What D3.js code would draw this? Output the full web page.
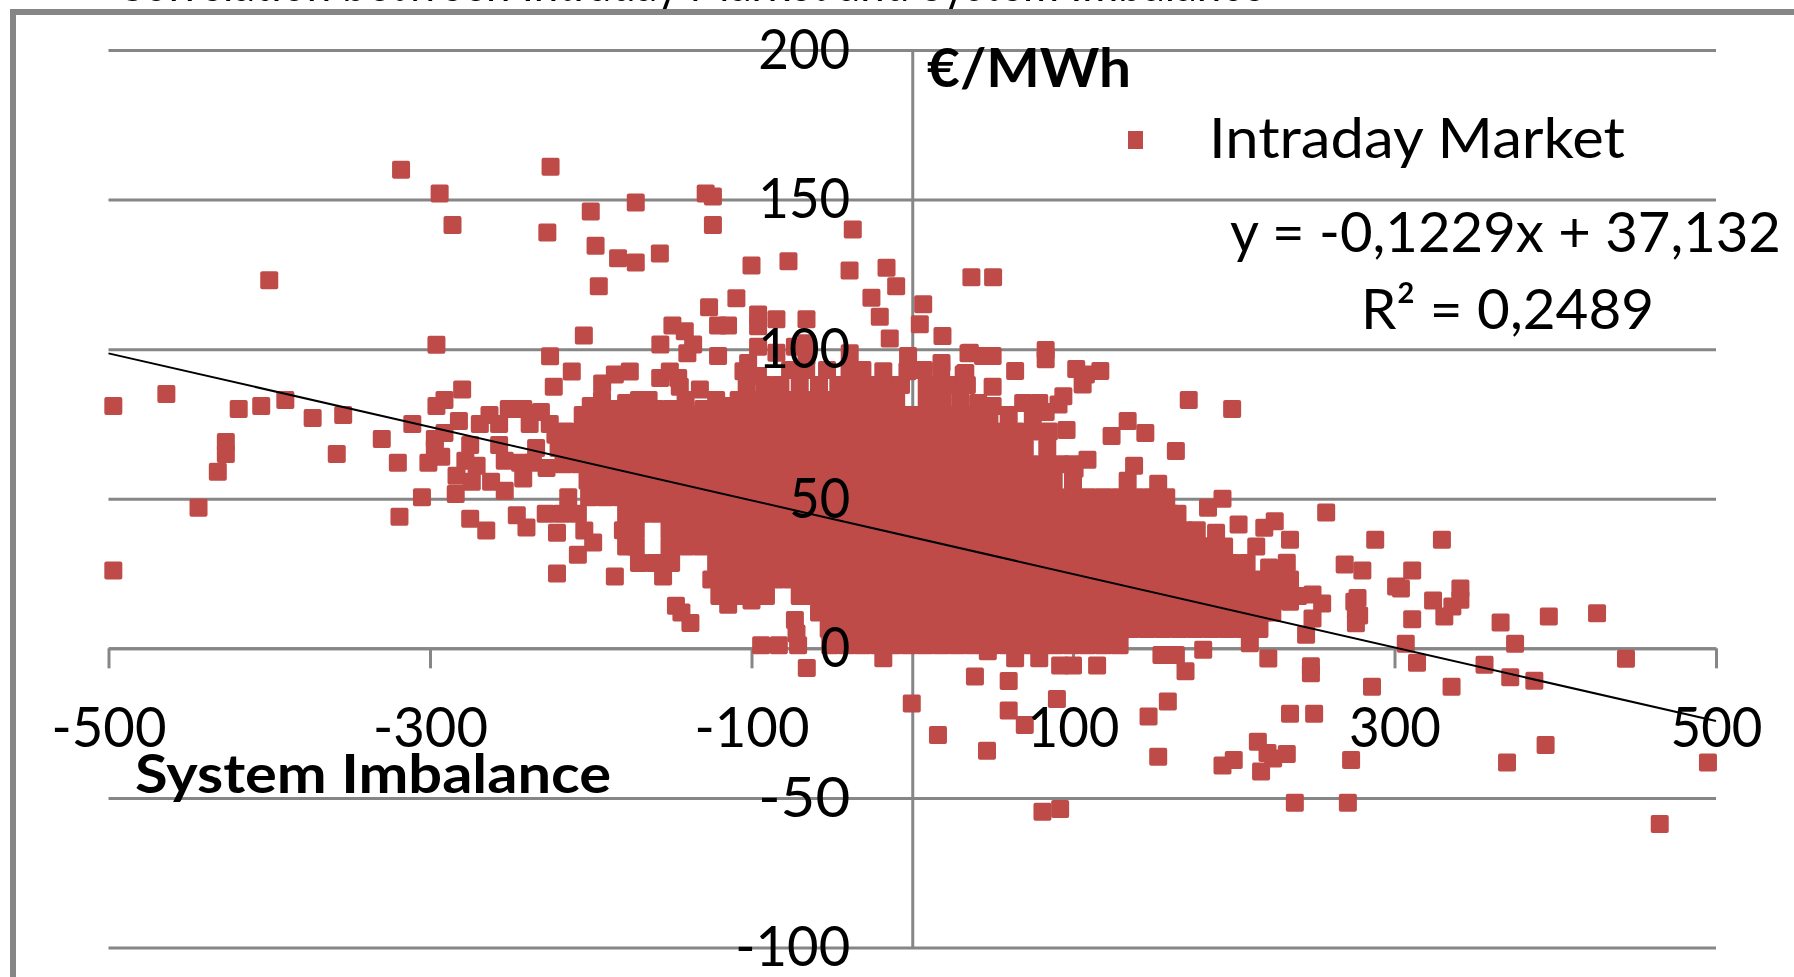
<!DOCTYPE html>
<html>
<head>
<meta charset="utf-8">
<script src="https://cdnjs.cloudflare.com/ajax/libs/d3/7.8.5/d3.min.js"></script>
<style>
  html, body { margin: 0; background: #fff; overflow: hidden; }
  text { font-family: Lato, Carlito, sans-serif; fill: #000; }
</style>
</head>
<body>
<script>
var xTicks = [-500, -300, -100, 100, 300, 500];
var yTicks = [200, 150, 100, 50, 0, -50, -100];
var trendX = [-500, 500];
var trendY = [98.6, -24.3];

// points, [imbalance, price]
var farLeft = [[-497,81],[-497,26],[-464,85],[-419,80],[-405,81],[-390,83],[-373,77],[-354,78],
  [-427,69],[-427,65],[-432,59],[-444,47],[-400,123],[-358,65],[-330,70],[-320,62],[-319,44],
  [-311,75],[-305,50.5],[-301,62]];
var upper = [[-318,160],[-294,152],[-286,141.5],[-296,101.5],[-225,161],[-227,139],[-200,146],
  [-172,149],[-197,134.6],[-183,130.4],[-172,129],[-157,132],[-195,121],[-128.5,152],[-124,151],
  [-124,141.5],[-100,128],[-77,129.4],[-37,140],[-39,126.3],[-16,127.2],[-10,121],[-25.4,117.2],
  [-20.2,110.8],[6.8,115],[4.7,108.3],[-14,103.6],[18.8,104.4],[36.8,124],[50.3,124],[-109.4,117],
  [-126.4,114],[-120.8,107.9],[-114.6,107.9],[-95.9,111.6],[-95.9,107.7],[-84.5,110],[-65.8,110],
  [-149.2,107.9],[-141.5,106],[-136.3,101.6],[-139.9,98.6],[-156.7,101.6],[-120.8,97.7],[-95.9,100.8],
  [-84.5,98.8],[-73,100.8],[-65.8,102],[-65.8,97.7],[-38.9,98.6],[35.8,98.8],[48.3,97.7],[-2.6,97.7],
  [18.2,95.4],[-102.1,95.4],[-204.3,104.6],[-225.3,97.6],[-211.8,92.5],[-223,87.4],[-156.8,90.4],
  [-150.8,92.5],[-145.6,90.4],[-144.6,87.4],[-132.1,86.5],[-175.7,92.5],[-185,91.5],[-192.9,88.5]];
var topEdge = [[-193,83],[-170,83],[-164,83],[-141,83],[-122,83],[-108,83],[-100,83],[-90,83],[-80,83],
  [-70,83],[-60,83],[-50,83],[-40,83],[-30,83],[-20,83],[-10,83],[9,83],[19,83],[30,83],[41,82],[50,81],
  [-103,88],[-92,88],[-82,88],[-70,88],[-58,88],[-46,88],[-35,88],[-25,88],[-15,88],[-7,88],[9,88],
  [18,88],[26,88],[34,88],[50,87.4],[-105,92.6],[-96,91],[-76,93],[-66,93],[-53,93],[-39,93],[-31,93],
  [-18,92.6],[-3,92.6],[7,93],[18,93],[33,92],[35,98.6],[44,97.7],[50,97.7],[83,99.7],[83,96.6],[64,92.7],
  [102,93.4],[117,92.7],[108,91.5],[106,88.2],[32,91.5],[33,88.2],[94,84.3],[69,82],[79,82],[91,81.5],
  [75,78],[83,79],[-200,81],[-185,80],[-178,82],[-160,80],[-150,80],[-130,80],[-115,81]];
var leftCluster = [[-280,86.5],[-291,83],[-296,81],[-282,76],[-269,75],[-263,78],[-251,80],[-242,80],
  [-231,79],[-257,75],[-238,75],[-225.5,75],[-222,71.4],[-297,70],[-291,72],[-297,67],[-293,64],
  [-275,68],[-278,62.7],[-271,61],[-283.5,57.7],[-274,55.7],[-284,51.6],[-262,55.7],[-253.5,52.7],
  [-257,68],[-253.5,62.7],[-244,62],[-242,56.8],[-234,67],[-227.5,60.3],[-236,62],[-275,43.3],
  [-265,39.4],[-246,44.5],[-240,40.4],[-221,38.6],[-204,39.4],[-198.5,35.4],[-208,31.3],[-221,25],
  [-185,24],[-155,24],[-147,14.2],[-143.6,12],[-138,8.5],[-114.5,14.6],[-100,16],[-94,1],[-83,1],[-71,1],[-73,9.5],[-72,5]];
var rightSide = [[172,83],[199,80],[134,76],[124,71],[145,72],[164,66],[138,61],[109,63],[101,60],[134,56],
  [153,55],[96,73],[193,50],[184,47],[203,41.4],[225.5,42.5],[219,40.3],[189,38.6],[235,36.3],[214,34],
  [194,34],[233,28.6],[222,27],[257.5,45.4],[288,36.3],[329.5,36.3],[269,28],[280,26],[311,26],[301,20.7],
  [304,20],[341,20],[324,16],[336,14],[341,16.2],[331,10.6],[275,15.6],[277,16.8],[276,13],[278,11],[276,8.4],
  [311,9.7],[366,8.6],[396,10.6],[426,11.7],[307,1.5],[375,1.5],[314,-4.8],[444,-3.5],[356,-5.5],[372,-9.7],
  [387,-10.8],[286,-12.8],[335.5,-12.8],[248,-6],[248,-8.3],[245,4.5],[249,18],[255,15],[235,15.6],[249,10]];
var below = [[-18,-3.3],[-65.6,-6.6],[39,-9.4],[-0.3,-18.4],[47,-1],[64,-3.3],[79,-3.3],[92,-5.7],[100,-5.7],
  [115,-5.7],[155,-2.2],[164,-2.2],[170,-7.7],[181,-0.5],[210,1.7],[221.5,-3.4],[60,-10.9],[90,-16.9],
  [159,-17.8],[147,-22.8],[60,-20.8],[70,-25.6],[16,-29],[46.5,-34.2],[153,-36.2],[235,-21.9],[250,-21.9],
  [215,-31.2],[221,-35],[224.5,-36.8],[233,-35.3],[200,-37.3],[193,-39.2],[217,-41.2],[273,-37.3],
  [370,-38.2],[394,-32.3],[495,-38.2],[238,-51.6],[271,-51.6],[81,-54.6],[92,-53.7],[465,-58.7]];

// the middle of the cloud is solid in the picture, single points can't be told apart there,
// so these bands are estimates that follow its outline and holes
var bandY = [1, 6.5, 12, 17.5, 23, 28.5, 34, 39.5, 45, 50.5, 56, 61.5, 67, 72.5, 78];
var bandX = [
  [-51,-41,-31,-21,-12,-2,8,18,28,38,49,59,69,79,89,99,109,119,129],
  [-52,-42,-32,-22,-12,-3,7,17,27,37,47,57,67,77,87,97,107,117,127,136,146,156,166,176,186,196,206,216],
  [-58,-50,-40,-30,-21,-11,-1,9,19,29,39,48,58,68,78,88,98,108,118,128,138,148,158,168,178,188,198,208,218,224],
  [-120,-110,-100,-91,-70,-62,-56,-46,-36,-26,-16,-6,4,14,24,34,44,54,64,74,84,94,104,114,124,134,144,154,164,174,184,194,204,214,224,234,240],
  [-125,-115,-105,-95,-85,-75,-65,-55,-45,-35,-25,-15,-5,5,15,25,35,45,55,65,75,85,95,105,115,125,135,145,155,165,175,185,195,205,215,225,235],
  [-170,-160,-150,-122,-112,-102,-92,-82,-72,-62,-52,-42,-32,-22,-12,-2,8,18,28,38,48,58,68,78,88,98,108,118,128,138,148,158,168,178,188,198,208],
  [-178,-172,-151,-141,-131,-121,-111,-101,-91,-81,-71,-61,-51,-41,-31,-21,-11,-1,9,19,29,39,49,59,69,79,89,99,109,119,129,139,149,159,169,179,185],
  [-180,-172,-151,-141,-131,-121,-111,-101,-91,-81,-71,-61,-51,-41,-31,-21,-11,-1,9,19,29,39,49,59,69,79,89,99,109,119,129,139,149,159,169,177],
  [-228,-218,-208,-178,-168,-158,-148,-138,-128,-118,-108,-98,-88,-78,-68,-58,-48,-38,-28,-18,-8,2,12,22,32,42,52,62,72,82,92,102,112,122,132,142,152,160,165],
  [-214,-201,-191,-181,-171,-161,-151,-141,-131,-121,-111,-101,-91,-81,-71,-61,-51,-41,-31,-21,-11,-1,9,19,29,39,49,59,69,79,89,99,109,119,129,139,149,158],
  [-202,-192,-182,-172,-162,-152,-142,-132,-122,-112,-102,-92,-82,-72,-62,-52,-42,-32,-22,-12,-2,8,18,28,38,48,58,68,78,88,100],
  [-217,-207,-197,-187,-177,-167,-157,-147,-137,-127,-117,-107,-97,-87,-77,-67,-57,-47,-37,-27,-17,-7,3,13,23,33,43,53,63,73,83,92,100],
  [-220,-210,-200,-190,-180,-170,-160,-150,-140,-130,-120,-110,-100,-90,-80,-70,-60,-50,-40,-30,-20,-10,0,10,20,30,40,50,60,70,84],
  [-216,-206,-196,-186,-176,-166,-156,-146,-136,-126,-116,-106,-96,-86,-76,-66,-56,-46,-36,-26,-16,-6,4,14,24,34,44,54,64,74,85],
  [-205,-196,-186,-176,-166,-156,-146,-136,-126,-116,-106,-96,-86,-76,-66,-56,-46,-36,-26,-16,-7,1,8,18,28,38,48,60]
];

var width = 1794, height = 977;
var plot = {left: 108.5, right: 1716, top: 50, bottom: 947.5};
var grey = "#868686", red = "#be4b48";

var x = d3.scaleLinear().domain([-500, 500]).range([plot.left, plot.right]);
var y = d3.scaleLinear().domain([200, -100]).range([plot.top, plot.bottom]);

var svg = d3.select("body").append("svg")
    .attr("width", width)
    .attr("height", height);

// title of the page it was cut from, only the descenders are left
svg.append("text")
    .attr("x", 115).attr("y", 1)
    .attr("font-size", 55)
    .attr("textLength", 1150)
    .attr("lengthAdjust", "spacingAndGlyphs")
    .text("Correlation between Intraday Market and System Imbalance");

svg.append("path")
    .attr("d", "M13,977V12H1794")
    .attr("fill", "none")
    .attr("stroke", grey)
    .attr("stroke-width", 6);

// horizontal gridlines
var grid = svg.append("g")
    .attr("transform", "translate(" + plot.left + ",0)")
    .call(d3.axisLeft(y).tickValues(yTicks).tickSize(plot.left - plot.right).tickFormat(""));
grid.select(".domain").remove();
grid.selectAll("line").attr("stroke", grey).attr("stroke-width", 3);

// axis lines under the marks, their labels get drawn again on top
var xLine = svg.append("g")
    .attr("transform", "translate(0," + y(0) + ")")
    .call(d3.axisBottom(x).tickValues(xTicks).tickSize(20).tickSizeOuter(0).tickFormat(""));
var yLine = svg.append("g")
    .attr("transform", "translate(" + x(0) + ",0)")
    .call(d3.axisLeft(y).tickValues(yTicks).tickSize(0).tickFormat(""));
[xLine, yLine].forEach(function(a) {
  a.select(".domain").attr("stroke", grey).attr("stroke-width", 3);
  a.selectAll("line").attr("stroke", grey).attr("stroke-width", 3);
});

var points = farLeft.concat(upper, topEdge, leftCluster, rightSide, below);
bandY.forEach(function(v, i) {
  bandX[i].forEach(function(u) { points.push([u, v]); });
});

svg.append("g").selectAll("rect")
    .data(points)
  .enter().append("rect")
    .attr("x", function(d) { return x(d[0]) - 9; })
    .attr("y", function(d) { return y(d[1]) - 9; })
    .attr("width", 18)
    .attr("height", 18)
    .attr("rx", 2)
    .attr("fill", red);

var trendline = d3.line()
    .x(function(d) { return x(d); })
    .y(function(d, i) { return y(trendY[i]); });
svg.append("path")
    .attr("d", trendline(trendX))
    .attr("fill", "none")
    .attr("stroke", "#000")
    .attr("stroke-width", 2);

var xAxis = svg.append("g")
    .attr("transform", "translate(0," + y(0) + ")")
    .call(d3.axisBottom(x).tickValues(xTicks).tickSize(0).tickPadding(58).tickFormat(String));
var yAxis = svg.append("g")
    .attr("transform", "translate(" + x(0) + ",0)")
    .call(d3.axisLeft(y).tickValues(yTicks).tickSize(0).tickPadding(62).tickFormat(String));

var tickWidth = {1: 30, 2: 61, 3: 92, 4: 115};
[xAxis, yAxis].forEach(function(a) {
  a.select(".domain").remove();
  a.selectAll("line").remove();
  a.selectAll("text")
      .attr("font-size", 57)
      .attr("fill", "#000")
      .attr("textLength", function() { return tickWidth[this.textContent.length]; })
      .attr("lengthAdjust", "spacingAndGlyphs");
});

function label(px, py, str, len, size, bold) {
  svg.append("text")
      .attr("x", px).attr("y", py)
      .attr("font-size", size)
      .attr("font-weight", bold ? 700 : 400)
      .attr("textLength", len)
      .attr("lengthAdjust", "spacingAndGlyphs")
      .text(str);
}

label(927, 87, "€/MWh", 204, 54, true);
label(135, 793, "System Imbalance", 476, 54, true);
label(1209, 158, "Intraday Market", 416, 57, false);
label(1230, 252, "y = -0,1229x + 37,132", 551, 57, false);
label(1361, 329, "R² = 0,2489", 293, 57, false);

svg.append("rect")
    .attr("x", 1128).attr("y", 131)
    .attr("width", 15).attr("height", 18)
    .attr("fill", red);
</script>
</body>
</html>
